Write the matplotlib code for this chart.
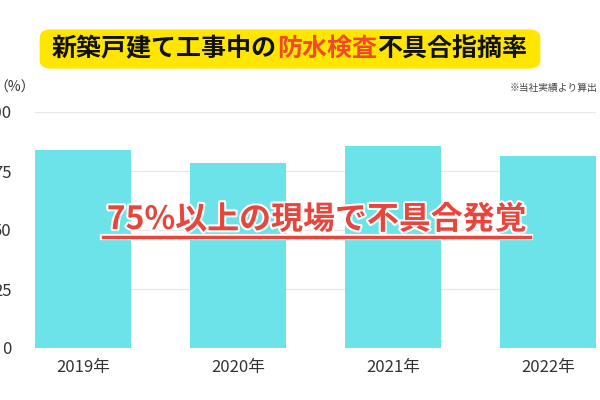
import matplotlib
matplotlib.use("Agg")
import matplotlib.pyplot as plt
import matplotlib.patheffects as pe
from matplotlib.patches import FancyBboxPatch

plt.rcParams['font.family'] = ['Noto Sans CJK JP', 'DejaVu Sans']

years = ["2019年", "2020年", "2021年", "2022年"]
rates = [84, 78.5, 85.5, 81.5]
yticks = [0, 25, 50, 75, 100]

fig = plt.figure(figsize=(6, 4), dpi=100)
W, H = 600, 400
ax = fig.add_axes([35/W, 1-348/H, 561/W, 236/H])
x = range(len(years))
ax.bar(x, rates, width=0.62, color="#6ce3e8", zorder=2)
ax.set_xlim(-0.31, 3.31)
ax.set_ylim(0, 100)
ax.set_yticks(yticks)
ax.set_yticklabels([str(v) for v in yticks], fontsize=12, color="#333333")
ax.set_xticks(list(x))
ax.set_xticklabels(years, fontsize=12, color="#333333")
ax.tick_params(length=0, pad=8)
ax.tick_params(axis='y', pad=17)
ax.grid(axis='y', color="#e6e6e6", lw=0.8, zorder=0)
for s in ax.spines.values():
    s.set_visible(False)

box = FancyBboxPatch((42/W, 1-67/H), 496/W, 36/H, boxstyle="round,pad=0.004,rounding_size=0.02",
                     transform=fig.transFigure, fc="#ffe600", ec="none")
fig.patches.append(box)
parts = [("新築戸建て工事中の", "#111111"), ("防水検査", "#f04a2a"), ("不具合指摘率", "#111111")]
r = fig.canvas.get_renderer()
xpos = 52
for txt, col in parts:
    tt = fig.text(xpos/W, 1-49/H, txt, fontsize=18, fontweight='bold', color=col, va="center")
    xpos = tt.get_window_extent(r).x1

fig.text(597/W, 1-88/H, "※当社実績より算出", fontsize=7, color="#444444", ha="right", va="center")
fig.text(-6/W, 1-88/H, "（%）", fontsize=10, color="#333333", ha="left", va="center")

fig.text(317/W, 1-220/H, "75%以上の現場で不具合発覚", fontsize=23, fontweight='bold', color="#e8453c",
         ha="center", va="center", style='italic',
         path_effects=[pe.withStroke(linewidth=3, foreground="white")])
fig.add_artist(plt.Line2D([103/W, 530/W], [1-237/H, 1-237/H], transform=fig.transFigure,
                          color="#e8453c", lw=2.5,
                          path_effects=[pe.withStroke(linewidth=4.5, foreground="white")]))

fig.savefig("out.png", dpi=100)
